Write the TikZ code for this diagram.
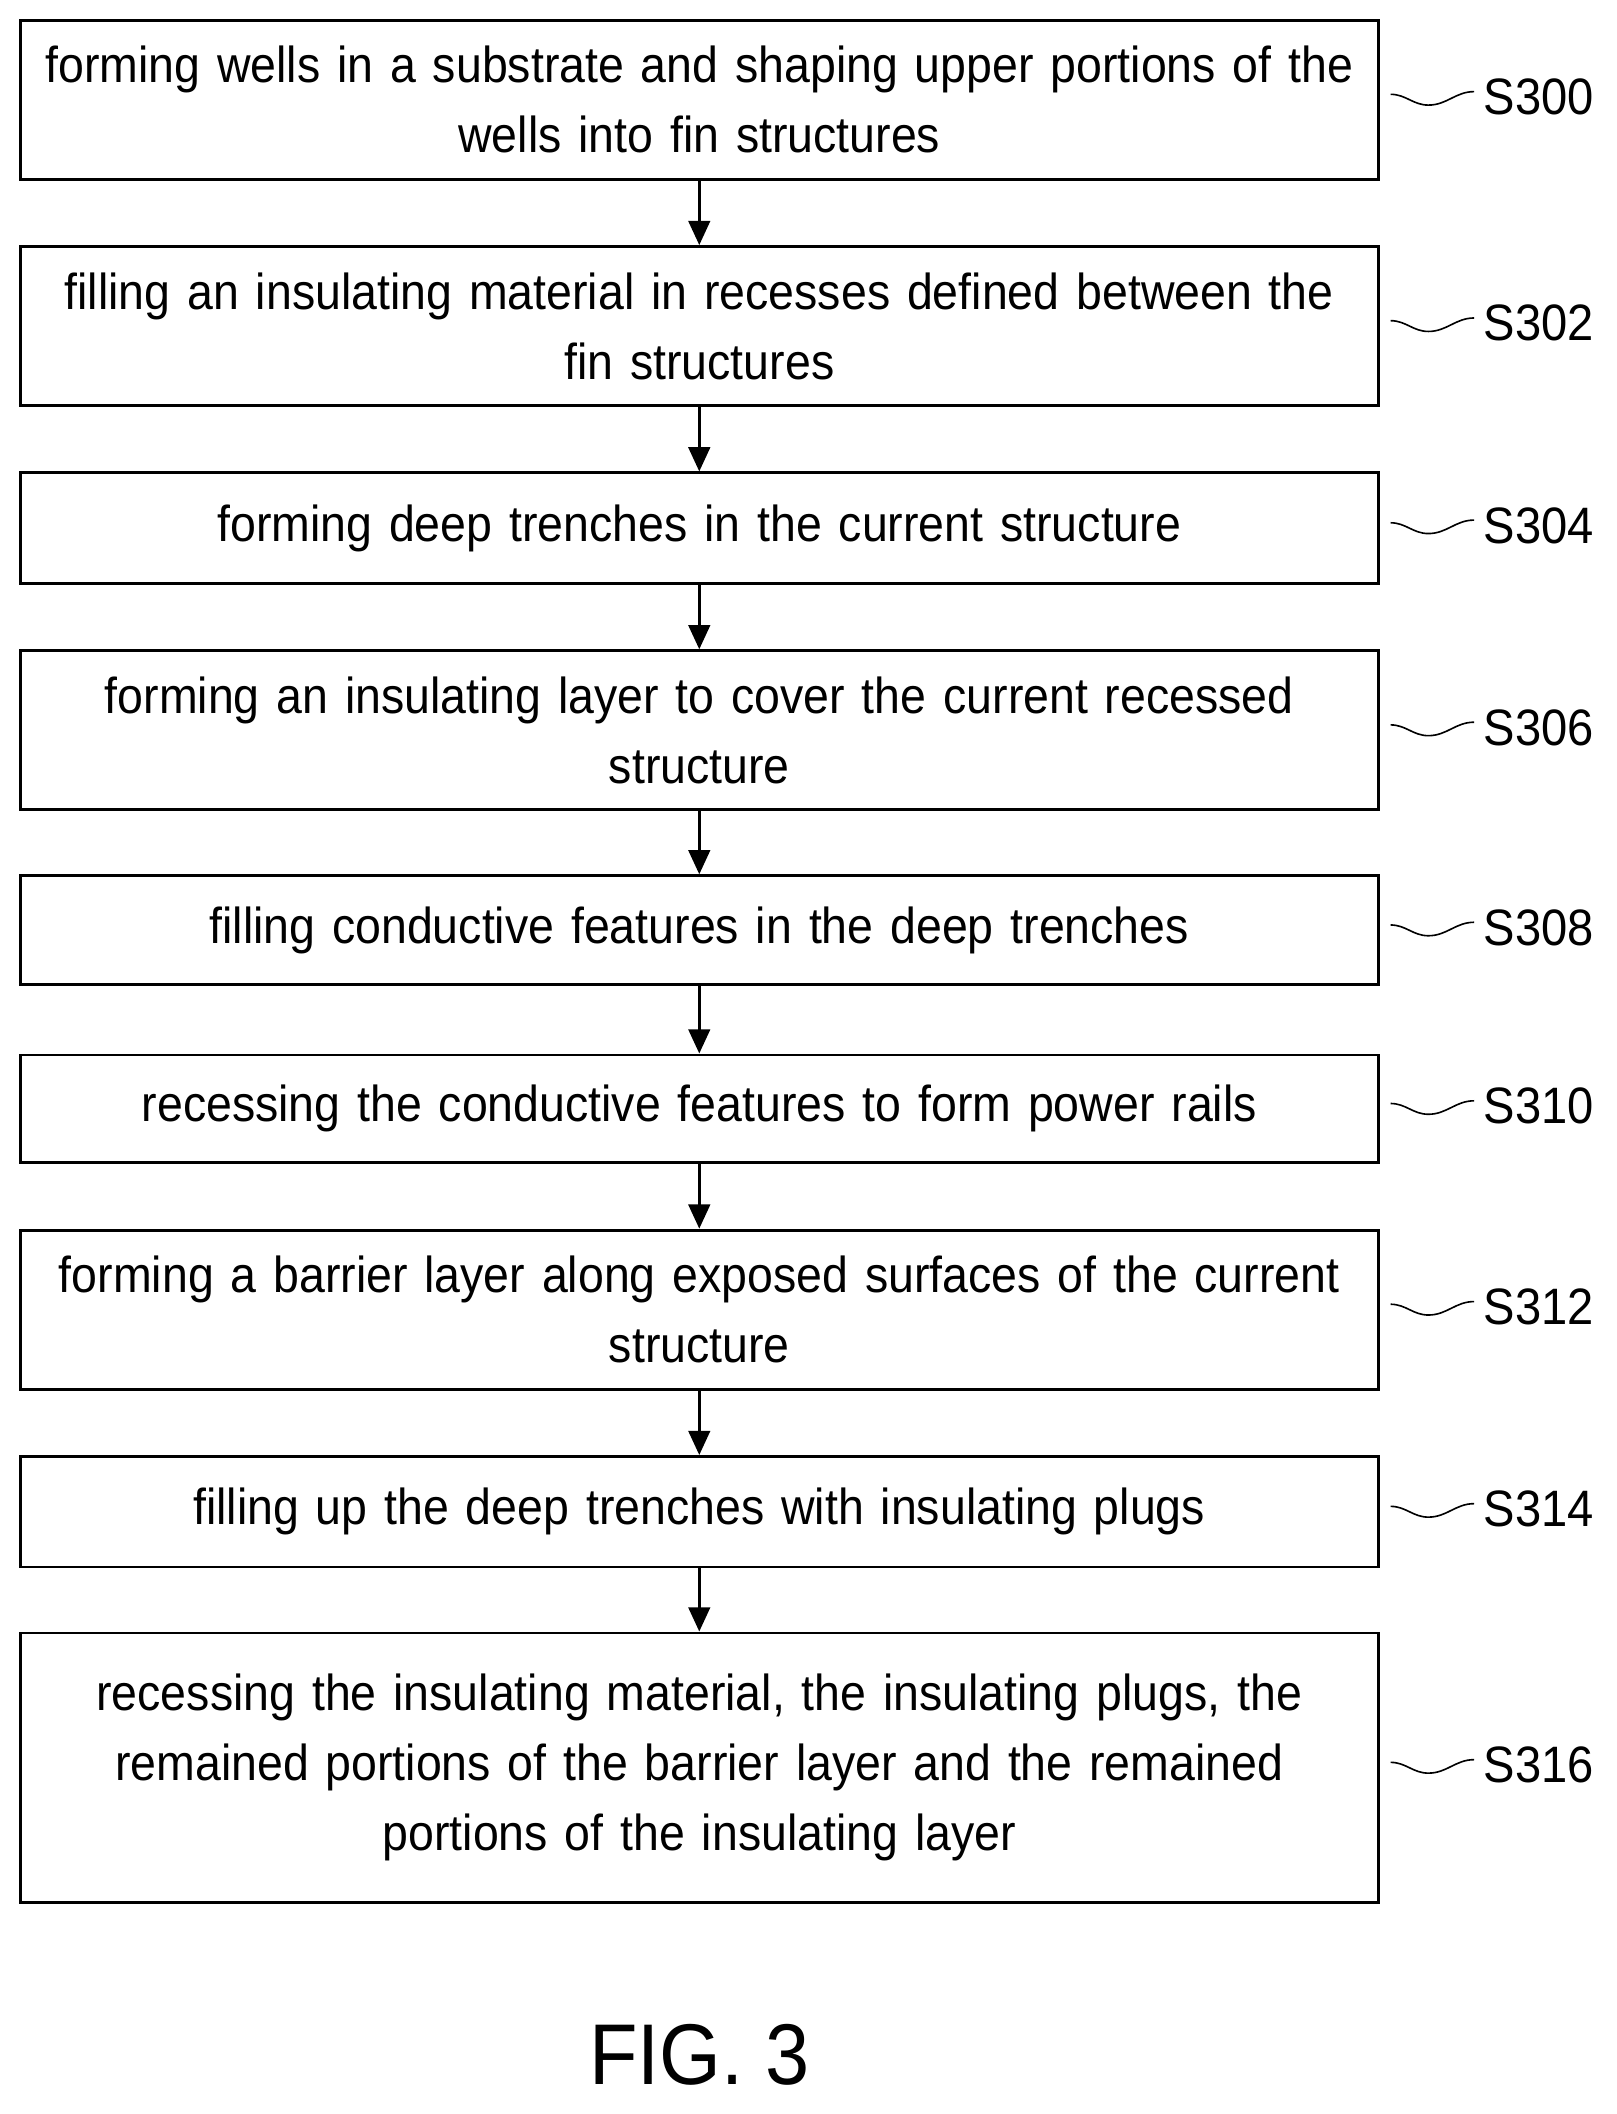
\documentclass[tikz,border=0pt]{standalone}
\usepackage{fontspec}
\setmainfont{Liberation Sans}[FakeStretch=0.92]
\usetikzlibrary{calc,arrows.meta}
\begin{document}
\begin{tikzpicture}[x=1pt,y=-1pt,
  box/.style={draw,line width=2.2pt,minimum width=1008pt,text width=1000pt,align=center,inner sep=0pt,font=\fontsize{37.5}{52}\selectfont},
  lab/.style={anchor=west,inner sep=0pt,font=\fontsize{38}{44}\selectfont},
  arr/.style={line width=2.2pt,-{Triangle[length=18pt,width=16pt]}},
  sq/.style={line width=1.2pt}]
\useasboundingbox (0,0) rectangle (1200,1569);
\node[box,minimum height=118pt] (b0) at (519,74) {forming wells in a substrate and shaping upper portions of the\\ wells into fin structures};
\node[box,minimum height=118pt] (b1) at (519,242) {filling an insulating material in recesses defined between the\\ fin structures};
\node[box,minimum height=82pt] (b2) at (519,392) {forming deep trenches in the current structure};
\node[box,minimum height=118pt] (b3) at (519,542) {forming an insulating layer to cover the current recessed\\ structure};
\node[box,minimum height=81pt] (b4) at (519,690.5) {filling conductive features in the deep trenches};
\node[box,minimum height=80pt] (b5) at (519,823) {recessing the conductive features to form power rails};
\node[box,minimum height=118pt] (b6) at (519,972) {forming a barrier layer along exposed surfaces of the current\\ structure};
\node[box,minimum height=82pt] (b7) at (519,1122) {filling up the deep trenches with insulating plugs};
\node[box,minimum height=200pt] (b8) at (519,1312) {recessing the insulating material, the insulating plugs, the\\ remained portions of the barrier layer and the remained\\ portions of the insulating layer};
\foreach \a/\b in {b0/b1,b1/b2,b2/b3,b3/b4,b4/b5,b5/b6,b6/b7,b7/b8}
  \draw[arr] (\a.south) -- (\b.north);
\foreach \b/\t in {b0/S300,b1/S302,b2/S304,b3/S306,b4/S308,b5/S310,b6/S312,b7/S314,b8/S316}{
  \node[lab] (l\t) at ($(\b.east)+(77,-2)$) {\t};
  \draw[sq] ($(\b.east)+(8,-4)$) to[out=0,in=180] ($(\b.east)+(36,4)$) to[out=0,in=180] ($(\b.east)+(70,-6)$);
}
\node[font=\fontsize{64}{70}\selectfont] (fig) at (519,1525) {FIG. 3};
\end{tikzpicture}
\end{document}
